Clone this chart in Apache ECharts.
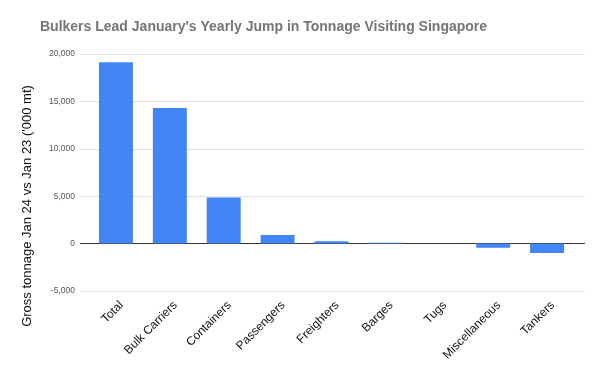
<!DOCTYPE html>
<html><head><meta charset="utf-8">
<script src="https://cdn.jsdelivr.net/npm/echarts@6/dist/echarts.min.js"></script>
<style>html,body{margin:0;padding:0;background:#fff}#c{width:605px;height:374px}</style>
</head><body><div id="c"></div>
<script>
const categories = ['Total','Bulk Carriers','Containers','Passengers','Freighters','Barges','Tugs','Miscellaneous','Tankers'];
const values = [19120, 14300, 4850, 920, 250, 100, 10, -450, -980];
const yTicks = {min: -5000, max: 20000, interval: 5000};
const titleText = "Bulkers Lead January's Yearly Jump in Tonnage Visiting Singapore";
const yName = "Gross tonnage Jan 24 vs Jan 23 ('000 mt)";

const chart = echarts.init(document.getElementById('c'));
const gridTop = 54, gridBottom = 83;
chart.setOption({
  animation: false,
  title: {text: titleText, left: 35, top: 15,
    textStyle: {fontFamily: 'Liberation Sans, Arial', fontSize: 14, fontWeight: 'bold', color: '#757575'}},
  grid: [
    {left: 80, right: 20, top: gridTop, bottom: gridBottom},
    {left: 89, right: 31, top: gridTop, bottom: gridBottom}
  ],
  graphic: [{type: 'text', x: 27, y: 206, rotation: Math.PI/2,
    style: {text: yName, font: '13px "Liberation Sans", Arial', fill: '#111',
      align: 'center', verticalAlign: 'middle'}}],
  xAxis: [
    {gridIndex: 0, type: 'category', data: categories, show: false},
    {gridIndex: 1, type: 'category', data: categories,
      axisLine: {show: false}, axisTick: {show: false},
      axisLabel: {rotate: 45, interval: 0, margin: 18, padding: [0, -8, 0, 0],
        fontFamily: 'Liberation Sans, Arial', fontSize: 12, color: '#111'}}
  ],
  yAxis: [
    {gridIndex: 0, type: 'value', min: yTicks.min, max: yTicks.max, interval: yTicks.interval,
      axisLine: {show: false}, axisTick: {show: false},
      axisLabel: {margin: 5, fontFamily: 'Liberation Sans, Arial', fontSize: 8.5, color: '#555',
        formatter: v => v.toLocaleString('en-US')},
      splitLine: {lineStyle: {color: ['#e0e0e0', '#333', '#e0e0e0', '#e0e0e0', '#e0e0e0', '#e0e0e0'], width: 1}}},
    {gridIndex: 1, type: 'value', min: yTicks.min, max: yTicks.max, interval: yTicks.interval, show: false,
      splitLine: {show: false}}
  ],
  series: [{type: 'bar', xAxisIndex: 1, yAxisIndex: 1, data: values, barWidth: '63%',
    itemStyle: {color: '#4285F4'}}]
});
</script></body></html>
